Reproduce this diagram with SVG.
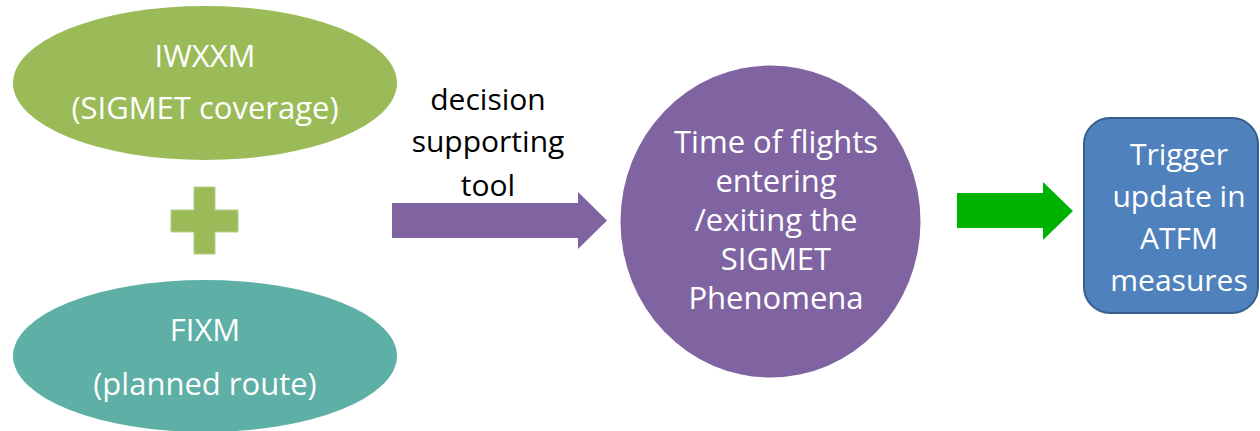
<svg xmlns="http://www.w3.org/2000/svg" width="1260" height="431" viewBox="0 0 1260 431">
<style>
.t{font-family:"Open Sans","Liberation Sans",sans-serif;font-size:30px;text-anchor:middle;fill:#ffffff}
.b{font-size:31px}
.k{fill:#000000}
</style>
<rect width="1260" height="431" fill="#ffffff"/>
<g id="iwxxm">
<ellipse cx="205" cy="83" rx="192" ry="77" fill="#9BBB59"/>
<text class="t b" x="205" y="67">IWXXM</text>
<text class="t b" x="205" y="119">(SIGMET coverage)</text>
</g>
<g id="plus">
<path d="M194,187 H215 V210 H238 V232 H215 V254 H194 V232 H171 V210 H194 Z" fill="#9BBB59" stroke="#B5CF86" stroke-width="1"/>
</g>
<g id="fixm">
<ellipse cx="205" cy="356" rx="192" ry="76" fill="#5EAFA6"/>
<text class="t b" x="205" y="341">FIXM</text>
<text class="t b" x="205" y="395">(planned route)</text>
</g>
<g id="label">
<text class="t k" x="488" y="110">decision</text>
<text class="t k" x="488" y="152">supporting</text>
<text class="t k" x="488" y="196">tool</text>
</g>
<g id="time">
<ellipse cx="770.5" cy="221.5" rx="150" ry="156" fill="#8064A2"/>
<text class="t b" x="776" y="153">Time of flights</text>
<text class="t b" x="776" y="192">entering</text>
<text class="t b" x="776" y="231">/exiting the</text>
<text class="t b" x="776" y="270">SIGMET</text>
<text class="t b" x="776" y="309">Phenomena</text>
</g>
<g id="trigger">
<rect x="1084" y="118" width="174" height="195" rx="26" fill="#4F81BD" stroke="#385D8A" stroke-width="2"/>
<text class="t" x="1179" y="165">Trigger</text>
<text class="t" x="1179" y="207">update in</text>
<text class="t" x="1179" y="249">ATFM</text>
<text class="t" x="1179" y="291">measures</text>
</g>
<g id="connectors">
<path d="M392,203 H578 V192 L607,220.5 L578,249 V238 H392 Z" fill="#8064A2"/>
<path d="M957,193 H1043 V182 L1073,211 L1043,240 V228 H957 Z" fill="#00B200"/>
</g>
</svg>
